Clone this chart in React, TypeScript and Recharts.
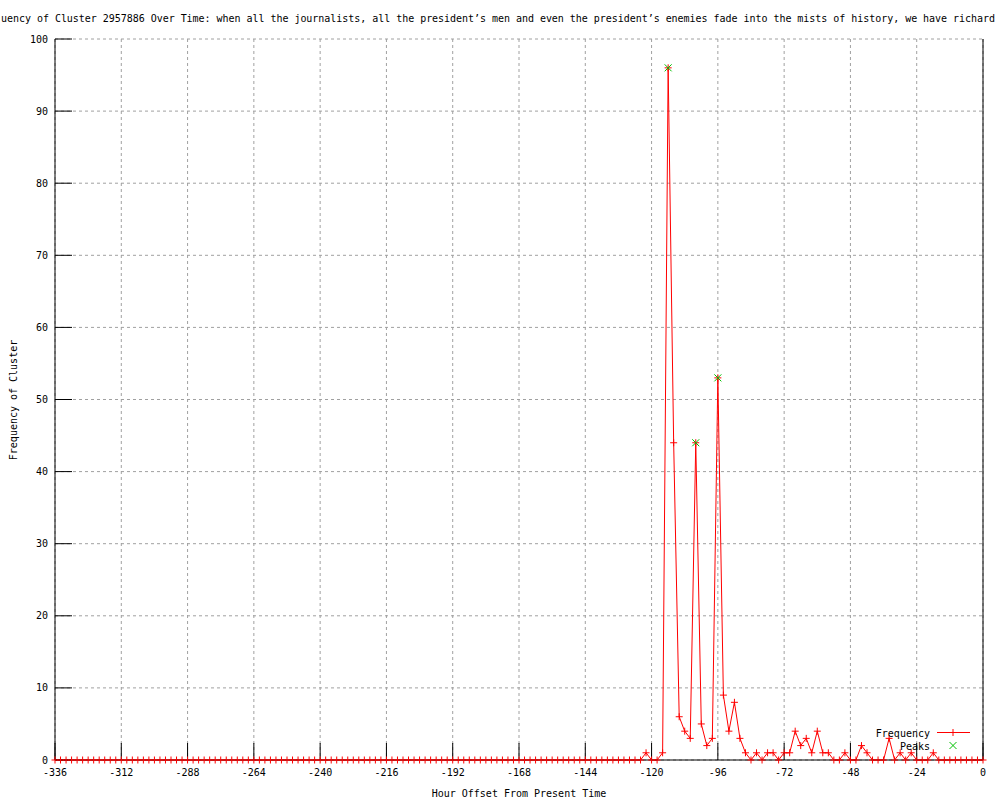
import { CartesianGrid, ComposedChart, Line, XAxis, YAxis } from "recharts";

const font = "'DejaVu Sans Mono', monospace";

// hourly bins, 2h apart, from -336 to 0
const startHour = -336;
const stepHours = 2;

const frequency = [
  0, 0, 0, 0, 0, 0, 0, 0, 0, 0, 0, 0, 0,
  0, 0, 0, 0, 0, 0, 0, 0, 0, 0, 0, 0, 0,
  0, 0, 0, 0, 0, 0, 0, 0, 0, 0, 0, 0, 0,
  0, 0, 0, 0, 0, 0, 0, 0, 0, 0, 0, 0, 0,
  0, 0, 0, 0, 0, 0, 0, 0, 0, 0, 0, 0, 0,
  0, 0, 0, 0, 0, 0, 0, 0, 0, 0, 0, 0, 0,
  0, 0, 0, 0, 0, 0, 0, 0, 0, 0, 0, 0, 0,
  0, 0, 0, 0, 0, 0, 0, 0, 0, 0, 0, 0, 0,
  0, 0, 0, 1, 0, 0, 1, 96, 44, 6, 4, 3, 44,
  5, 2, 3, 53, 9, 4, 8, 3, 1, 0, 1, 0, 1,
  1, 0, 1, 1, 4, 2, 3, 1, 4, 1, 1, 0, 0,
  1, 0, 0, 2, 1, 0, 0, 0, 3, 0, 1, 0, 1,
  0, 0, 0, 1, 0, 0, 0, 0, 0, 0, 0, 0, 0,
];

const peakHours = [-114, -104, -96];
const peakValues = [96, 44, 53];

const xTicks = [-336, -312, -288, -264, -240, -216, -192, -168, -144, -120, -96, -72, -48, -24, 0];
const yTicks = [0, 10, 20, 30, 40, 50, 60, 70, 80, 90, 100];

const title =
  "uency of Cluster 2957886 Over Time: when all the journalists, all the president\u2019s men and even the president\u2019s enemies fade into the mists of history, we have richard";

const data = frequency.map((value, i) => {
  const hour = startHour + i * stepHours;
  const p = peakHours.indexOf(hour);
  return { hour, frequency: value, peak: p >= 0 ? peakValues[p] : null };
});

function PlusDot(props: any) {
  const { cx, cy } = props;
  if (cx == null || cy == null) return null;
  return (
    <path
      d={`M${cx - 3.5},${cy}H${cx + 3.5}M${cx},${cy - 3.5}V${cy + 3.5}`}
      stroke="#ff0000"
      strokeWidth={1}
      fill="none"
    />
  );
}

function CrossDot(props: any) {
  const { cx, cy, value } = props;
  if (value == null || cx == null || cy == null || Number.isNaN(cy)) return null;
  return (
    <path
      d={`M${cx - 3.5},${cy - 3.5}L${cx + 3.5},${cy + 3.5}M${cx - 3.5},${cy + 3.5}L${cx + 3.5},${cy - 3.5}`}
      stroke="#00c000"
      strokeWidth={1}
      fill="none"
    />
  );
}

const tickStyle = { fontSize: 10, fontFamily: font, fill: "#000" };
const black = { stroke: "#000" };

export default function App() {
  return (
    <div style={{ position: "relative", width: 1000, height: 800, background: "#fff" }}>
      <style>{"body{margin:0}"}</style>
      <ComposedChart width={1000} height={800} data={data} margin={{ top: 39, right: 0, bottom: 0, left: 0 }}>
        <CartesianGrid stroke="#a0a0a0" strokeDasharray="3 3" />
        <XAxis
          dataKey="hour"
          type="number"
          domain={[-336, 0]}
          ticks={xTicks}
          interval={0}
          height={40}
          tick={tickStyle}
          tickSize={-17}
          tickMargin={26}
          axisLine={black}
          tickLine={black}
        />
        <XAxis
          xAxisId="top"
          orientation="top"
          dataKey="hour"
          type="number"
          domain={[-336, 0]}
          ticks={xTicks}
          interval={0}
          height={0}
          tick={false}
          tickSize={-17}
          axisLine={black}
          tickLine={black}
        />
        <YAxis
          type="number"
          domain={[0, 100]}
          ticks={yTicks}
          interval={0}
          width={55}
          tick={tickStyle}
          tickSize={-17}
          tickMargin={24}
          axisLine={black}
          tickLine={black}
        />
        <YAxis
          yAxisId="right"
          orientation="right"
          type="number"
          domain={[0, 100]}
          ticks={yTicks}
          interval={0}
          width={17}
          tick={false}
          tickSize={-17}
          axisLine={black}
          tickLine={black}
        />
        <Line
          xAxisId="top"
          yAxisId="right"
          dataKey="frequency"
          stroke="none"
          dot={false}
          activeDot={false}
          isAnimationActive={false}
        />
        <Line
          type="linear"
          dataKey="frequency"
          stroke="#ff0000"
          strokeWidth={1}
          dot={<PlusDot />}
          activeDot={false}
          isAnimationActive={false}
        />
        <Line
          type="linear"
          dataKey="peak"
          stroke="none"
          dot={<CrossDot />}
          activeDot={false}
          isAnimationActive={false}
        />
      </ComposedChart>
      <svg
        width={1000}
        height={800}
        style={{ position: "absolute", left: 0, top: 0, pointerEvents: "none" }}
      >
        <text x={1} y={22} fontSize={10} fontFamily={font} textLength={994} lengthAdjust="spacing">
          {title}
        </text>
        <text x={519} y={796.5} fontSize={10} fontFamily={font} textAnchor="middle">
          Hour Offset From Present Time
        </text>
        <text x={16.5} y={400} fontSize={10} fontFamily={font} textAnchor="middle" transform="rotate(-90 16.5 400)">
          Frequency of Cluster
        </text>
        <text x={930} y={736.5} fontSize={10} fontFamily={font} textAnchor="end">
          Frequency
        </text>
        <path d="M937,732.5H970M953,729V736" stroke="#ff0000" strokeWidth={1} fill="none" />
        <text x={930} y={749.5} fontSize={10} fontFamily={font} textAnchor="end">
          Peaks
        </text>
        <path d="M949.5,742L956.5,749M949.5,749L956.5,742" stroke="#00c000" strokeWidth={1} fill="none" />
      </svg>
    </div>
  );
}
